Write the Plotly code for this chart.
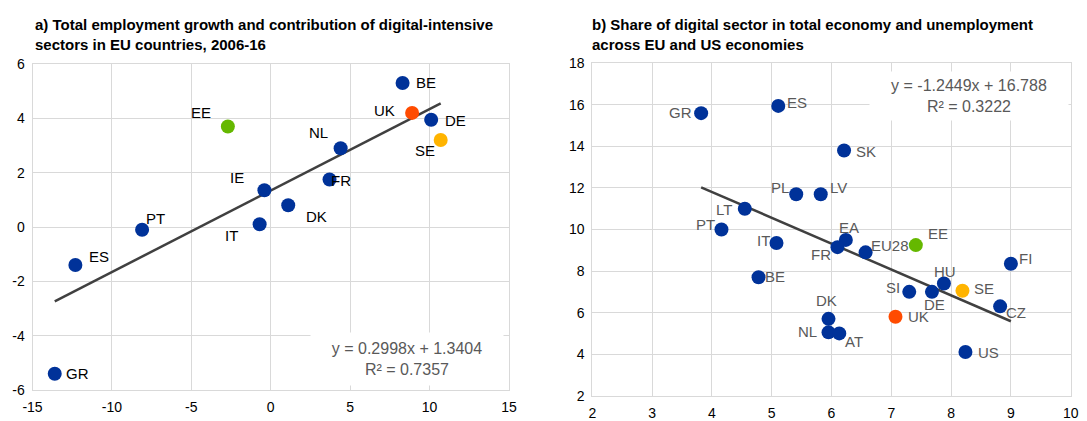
import plotly.graph_objects as go

# ---------------- Data ----------------
# Panel a) x: total employment growth (%), y: contribution of digital-intensive sectors
a_countries = ["GR", "ES", "PT", "IT", "IE", "DK", "FR", "NL", "EE", "BE", "UK", "DE", "SE"]
a_x = [-13.6, -12.3, -8.1, -0.7, -0.4, 1.1, 3.7, 4.4, -2.7, 8.3, 8.9, 10.1, 10.7]
a_y = [-5.4, -1.4, -0.1, 0.1, 1.35, 0.8, 1.75, 2.9, 3.7, 5.3, 4.2, 3.95, 3.2]
a_slope, a_intercept, a_r2 = 0.2998, 1.3404, 0.7357
a_xticks = [-15, -10, -5, 0, 5, 10, 15]
a_yticks = [-6, -4, -2, 0, 2, 4, 6]

# Panel b) x: share of digital sector, y: unemployment
b_countries = ["GR", "ES", "SK", "PL", "LV", "LT", "PT", "IT", "EA", "FR", "EU28", "EE",
               "FI", "BE", "HU", "SE", "SI", "DE", "CZ", "DK", "UK", "NL", "AT", "US"]
b_x = [3.82, 5.11, 6.21, 5.41, 5.82, 4.55, 4.16, 5.08, 6.24, 6.10, 6.57, 7.41,
       9.00, 4.78, 7.88, 8.19, 7.30, 7.68, 8.82, 5.95, 7.07, 5.95, 6.13, 8.24]
b_y = [15.6, 15.95, 13.8, 11.7, 11.7, 11.0, 10.0, 9.35, 9.5, 9.15, 8.9, 9.25,
       8.35, 7.7, 7.4, 7.05, 7.0, 7.0, 6.3, 5.7, 5.8, 5.05, 5.0, 4.1]
b_slope, b_intercept, b_r2 = -1.2449, 16.788, 0.3222
b_xticks = [2, 3, 4, 5, 6, 7, 8, 9, 10]
b_yticks = [2, 4, 6, 8, 10, 12, 14, 16, 18]

# ---------------- Styles ----------------
BLUE, GREEN, ORANGE, YELLOW = "#003299", "#65B800", "#FF4B00", "#FFB400"
special = {"EE": GREEN, "UK": ORANGE, "SE": YELLOW}
FONT = "Arial, Liberation Sans, sans-serif"

# label offsets (pixels, text centre relative to marker centre)
a_label_shift = {"GR": (23, 0), "ES": (24, 9), "PT": (13, 11), "IT": (-28, -11),
                 "IE": (-27, 13), "DK": (28, -11), "FR": (11, -1), "NL": (-22, 16),
                 "EE": (-27, 14), "BE": (23, 1), "UK": (-28, 2), "DE": (24, -1),
                 "SE": (-16, -10)}
b_label_shift = {"GR": (-21, 1), "ES": (19, 3), "SK": (22, -1), "PL": (-16, 7),
                 "LV": (18, 7), "LT": (-21, -1), "PT": (-16, 5), "IT": (-13, 3),
                 "EA": (3, 12), "FR": (-16, -7), "EU28": (24, 7), "EE": (22, 12),
                 "FI": (15, 5), "BE": (16, 1), "HU": (1, 12), "SE": (22, 2),
                 "SI": (-16, 4), "DE": (3, -13), "CZ": (16, -6), "DK": (-2, 18),
                 "UK": (23, 0), "NL": (-21, 1), "AT": (15, -8), "US": (23, 0)}

fig = go.Figure()

def add_panel(countries, xs, ys, slope, intercept, xaxis, yaxis):
    colors = [special.get(c, BLUE) for c in countries]
    x0, x1 = min(xs), max(xs)
    fig.add_trace(go.Scatter(
        x=[x0, x1], y=[slope * x0 + intercept, slope * x1 + intercept],
        mode="lines", line=dict(color="#404040", width=2.5),
        xaxis=xaxis, yaxis=yaxis, showlegend=False, hoverinfo="skip"))
    fig.add_trace(go.Scatter(
        x=xs, y=ys, mode="markers", text=countries,
        marker=dict(color=colors, size=14, line=dict(width=0)),
        xaxis=xaxis, yaxis=yaxis, showlegend=False))

add_panel(a_countries, a_x, a_y, a_slope, a_intercept, "x", "y")
add_panel(b_countries, b_x, b_y, b_slope, b_intercept, "x2", "y2")

annotations = []
for c, x, y in zip(a_countries, a_x, a_y):
    dx, dy = a_label_shift[c]
    annotations.append(dict(x=x, y=y, xref="x", yref="y", text=c, showarrow=False,
                            xshift=dx, yshift=dy, xanchor="center", yanchor="middle",
                            font=dict(family=FONT, size=15, color="#000000")))
for c, x, y in zip(b_countries, b_x, b_y):
    dx, dy = b_label_shift[c]
    annotations.append(dict(x=x, y=y, xref="x2", yref="y2", text=c, showarrow=False,
                            xshift=dx, yshift=dy, xanchor="center", yanchor="middle",
                            font=dict(family=FONT, size=15, color="#595959")))

# regression equations
annotations.append(dict(x=8.56, y=-4.87, xref="x", yref="y",
                        text=f"y = {a_slope}x + {a_intercept}<br>R² = {a_r2}",
                        showarrow=False, align="center", bgcolor="white",
                        width=190, height=50,
                        font=dict(family=FONT, size=16, color="#595959")))
annotations.append(dict(x=8.30, y=16.44, xref="x2", yref="y2",
                        text=f"y = {b_slope}x + {b_intercept}<br>R² = {b_r2}",
                        showarrow=False, align="center", bgcolor="white",
                        width=196, height=46,
                        font=dict(family=FONT, size=16, color="#595959")))

# titles
annotations.append(dict(x=32.5 / 1087, y=1 - 14 / 421, xref="paper", yref="paper",
                        xanchor="left", yanchor="top", align="left", showarrow=False,
                        text="<b>a) Total employment growth and contribution of digital-intensive<br>sectors in EU countries, 2006-16</b>",
                        font=dict(family=FONT, size=15, color="#000000")))
annotations.append(dict(x=590 / 1087, y=1 - 14 / 421, xref="paper", yref="paper",
                        xanchor="left", yanchor="top", align="left", showarrow=False,
                        text="<b>b) Share of digital sector in total economy and unemployment<br>across EU and US economies</b>",
                        font=dict(family=FONT, size=15, color="#000000")))

axis_common = dict(showgrid=True, gridcolor="#d9d9d9", gridwidth=1,
                   showline=True, linecolor="#d9d9d9", linewidth=1, mirror=True,
                   zeroline=False, ticks="outside", ticklen=4, tickcolor="rgba(0,0,0,0)",
                   automargin=False,
                   tickfont=dict(family=FONT, size=14, color="#000000"))

def ticks(vals):
    return dict(tickmode="array", tickvals=vals, ticktext=[str(v) for v in vals])

fig.update_layout(
    width=1087, height=421,
    margin=dict(l=0, r=0, t=0, b=0, autoexpand=False),
    paper_bgcolor="white", plot_bgcolor="white",
    showlegend=False,
    xaxis=dict(domain=[32.5 / 1087, 509 / 1087], range=[-15, 15], anchor="y",
               **ticks(a_xticks), **axis_common),
    yaxis=dict(domain=[(421 - 390) / 421, (421 - 64) / 421], range=[-6, 6], anchor="x",
               **ticks(a_yticks), **axis_common),
    xaxis2=dict(domain=[592.3 / 1087, 1070.7 / 1087], range=[2, 10], anchor="y2",
                **ticks(b_xticks), **axis_common),
    yaxis2=dict(domain=[(421 - 395.7) / 421, (421 - 63.3) / 421], range=[2, 18], anchor="x2",
                **ticks(b_yticks), **axis_common),
    annotations=annotations,
)

fig.write_html("out.html",
               config={"displayModeBar": False},
               post_script="document.body.style.margin='0';document.body.style.overflow='hidden';")
